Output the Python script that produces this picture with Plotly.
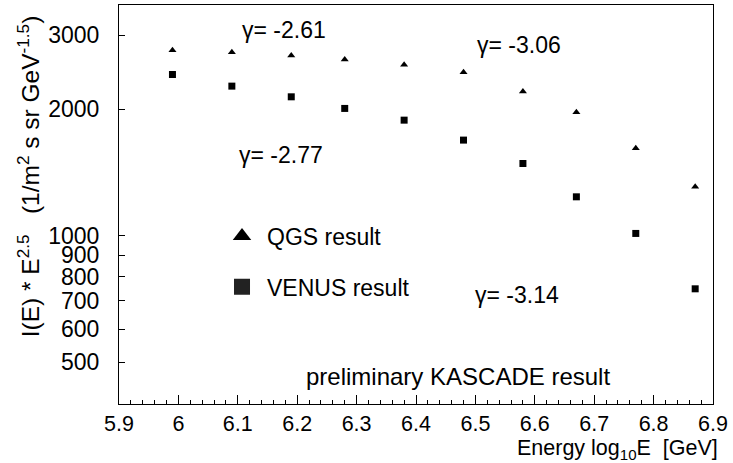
import math
import plotly.graph_objects as go

# ---- data ----
energy = [5.99, 6.09, 6.19, 6.28, 6.38, 6.48, 6.58, 6.67, 6.77, 6.87]
qgs = [2764, 2734, 2685, 2627, 2551, 2450, 2204, 1968, 1616, 1308]
venus = [2419, 2270, 2141, 2009, 1884, 1689, 1486, 1238, 1013, 748]
y_tickvals = [500, 600, 700, 800, 900, 1000, 2000, 3000]
x_tickvals = [5.9, 6.0, 6.1, 6.2, 6.3, 6.4, 6.5, 6.6, 6.7, 6.8, 6.9]
x_ticktext = ["5.9", "6", "6.1", "6.2", "6.3", "6.4", "6.5", "6.6", "6.7", "6.8", "6.9"]
gamma_labels = ["γ= -2.61", "γ= -3.06", "γ= -2.77", "γ= -3.14"]
series_names = ["QGS result", "VENUS result"]

FONT = "Liberation Sans, Arial, Helvetica, sans-serif"

fig = go.Figure()
fig.add_trace(go.Scatter(x=energy, y=qgs, mode="markers", showlegend=False,
                         marker=dict(symbol="triangle-up", size=7, color="black")))
fig.add_trace(go.Scatter(x=energy, y=venus, mode="markers", showlegend=False,
                         marker=dict(symbol="square", size=7, color="black")))
# legend entries
fig.add_trace(go.Scatter(x=[None], y=[None], mode="markers", name=series_names[0],
                         legendgroup="a",
                         marker=dict(symbol="triangle-up", size=16, color="black")))
fig.add_trace(go.Scatter(x=[None], y=[None], mode="markers", name=series_names[1],
                         legendgroup="b",
                         marker=dict(symbol="square", size=16, color="#222222")))

ann_pos = [(0.2037, 0.937), (0.5993, 0.8997), (0.1987, 0.6241), (0.5960, 0.2732)]
for txt, (ax, ay) in zip(gamma_labels, ann_pos):
    fig.add_annotation(text=txt, x=ax, y=ay, xref="paper", yref="paper",
                       xanchor="left", yanchor="middle", showarrow=False,
                       font=dict(size=23, family=FONT, color="black"))

fig.add_annotation(text="preliminary KASCADE result", x=0.570, y=0.068,
                   xref="paper", yref="paper", xanchor="center", yanchor="middle",
                   showarrow=False, font=dict(size=24, family=FONT, color="black"))
fig.add_annotation(text="Energy log<sub>10</sub>E  [GeV]", x=1.0118, y=-0.113,
                   xref="paper", yref="paper", xanchor="right", yanchor="middle",
                   showarrow=False, font=dict(size=21.5, family=FONT, color="black"))
fig.add_annotation(text="I(E) * E<sup>2.5</sup>   (1/m<sup>2</sup> s sr GeV<sup>-1.5</sup>)",
                   x=-0.152, y=0.57, xref="paper", yref="paper", textangle=-90,
                   xanchor="center", yanchor="middle", showarrow=False,
                   font=dict(size=24.5, family=FONT, color="black"))

fig.update_layout(
    width=733, height=463,
    margin=dict(l=119, r=20, t=5, b=59),
    paper_bgcolor="white", plot_bgcolor="white",
    font=dict(family=FONT, color="black"),
    legend=dict(x=0.165, y=0.475, xanchor="left", yanchor="top",
                bgcolor="rgba(0,0,0,0)", font=dict(size=23, family=FONT),
                traceorder="grouped", tracegroupgap=18, itemwidth=40),
    xaxis=dict(range=[5.9, 6.9], tickvals=x_tickvals, ticktext=x_ticktext,
               ticks="inside", ticklen=9, tickcolor="black", tickwidth=1,
               minor=dict(dtick=0.02, ticks="inside", ticklen=4, tickcolor="black"),
               showline=True, linecolor="black", linewidth=1, mirror=True,
               showgrid=False, zeroline=False, ticklabelstandoff=0,
               tickfont=dict(size=21.5, family=FONT)),
    yaxis=dict(type="log", range=[math.log10(398), math.log10(3540)],
               tickvals=y_tickvals, ticktext=[str(v) for v in y_tickvals],
               ticks="inside", ticklen=6, tickcolor="black",
               showline=True, linecolor="black", linewidth=1, mirror=True,
               showgrid=False, zeroline=False, ticklabelstandoff=14,
               tickfont=dict(size=23, family=FONT)),
)

fig.write_html("out.html")
